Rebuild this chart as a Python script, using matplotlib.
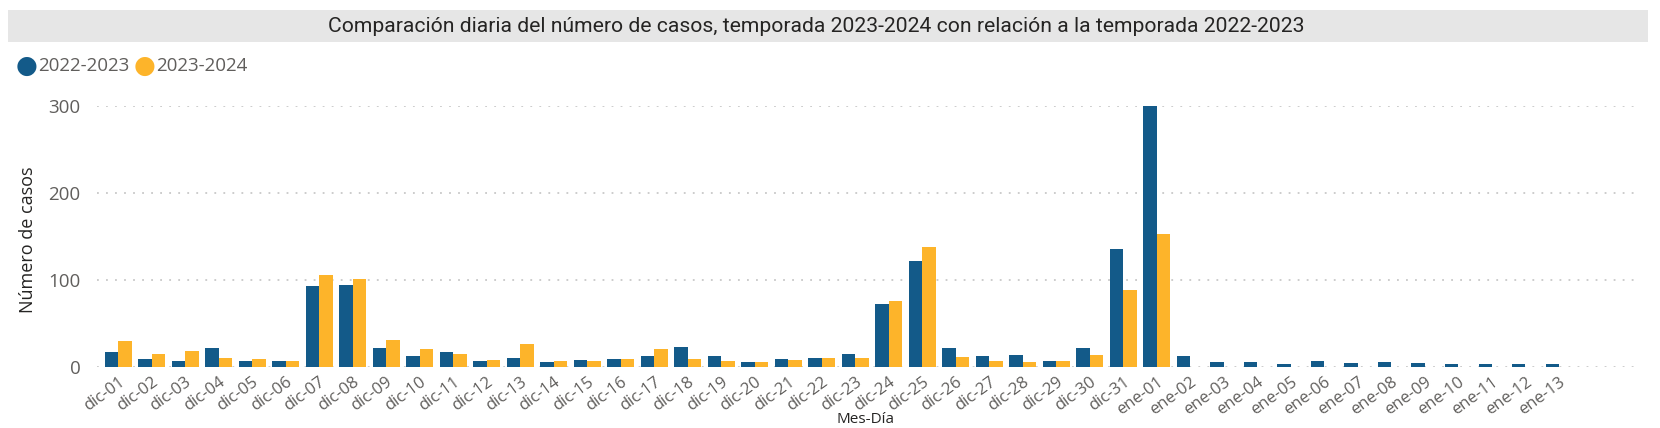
import numpy as np
import matplotlib.pyplot as plt
from matplotlib.patches import Rectangle

dias = [f"dic-{d:02d}" for d in range(1, 32)] + [f"ene-{d:02d}" for d in range(1, 14)]

temp_2022_2023 = [17, 9, 7, 22, 7, 7, 93, 94, 22, 13, 17, 7, 10,
                  6, 8, 9, 13, 23, 13, 6, 9, 10, 15, 72, 122, 22, 13, 14, 7,
                  22, 136,
                  300, 13, 6, 6, 4, 7, 5, 6, 5, 3, 3, 3, 3]
temp_2023_2024 = [30, 15, 18, 10, 9, 7, 106, 101, 31, 21, 15, 8, 27,
                  7, 7, 9, 21, 9, 7, 6, 8, 10, 10, 76, 138, 12, 7, 6, 7,
                  14, 88,
                  153] + [np.nan] * 12

series = ["2022-2023", "2023-2024"]
colores = ["#135A89", "#FDB42A"]

W, H = 1660, 428
fig = plt.figure(figsize=(W / 100, H / 100), dpi=100)
fig.patch.set_facecolor("white")

# barra de título
fig.patches.append(Rectangle((8 / W, 1 - 42 / H), 1640 / W, 32 / H,
                             transform=fig.transFigure, facecolor="#E6E6E6",
                             edgecolor="none", zorder=0))
fig.text(816 / W, 1 - 26 / H,
         "Comparación diaria del número de casos, temporada 2023-2024 con relación a la temporada 2022-2023",
         ha="center", va="center", fontsize=15.2, color="#252423", family="Roboto")

# leyenda
lx = 27
for nombre, col in zip(series, colores):
    fig.text(lx / W, 1 - 66 / H, "\u25CF", ha="center", va="center",
             fontsize=18, color=col, family="DejaVu Sans")
    fig.text((lx + 11) / W, 1 - 66 / H, nombre, ha="left", va="center",
             fontsize=13.5, color="#605E5C", family="Open Sans")
    lx += 118

left, right, top, bottom = 97, 1638, 106, 367
ax = fig.add_axes([left / W, 1 - bottom / H, (right - left) / W, (bottom - top) / H])

x = np.arange(len(dias))
w = 0.4
ax.bar(x - w / 2, temp_2022_2023, width=w, color=colores[0], zorder=2)
ax.bar(x + w / 2, temp_2023_2024, width=w, color=colores[1], zorder=2)

ax.set_xlim(-0.63, 45.36)
ax.set_ylim(0, 300)
ax.set_yticks([0, 100, 200, 300])
ax.grid(axis="y", color="#C8C8C8", linestyle=(0, (1, 4)), linewidth=1.3, zorder=0)
ax.set_axisbelow(True)
for s in ax.spines.values():
    s.set_visible(False)
ax.tick_params(axis="both", length=0, colors="#605E5C")
ax.tick_params(axis="y", labelsize=13.5, pad=12)
ax.set_yticklabels(["0", "100", "200", "300"], family="Open Sans")
ax.set_xticks(x)
ax.set_xticklabels(dias, rotation=36, ha="right", rotation_mode="anchor",
                   fontsize=12, family="Open Sans", color="#605E5C")
ax.tick_params(axis="x", pad=5)

fig.text(28 / W, 1 - 240 / H, "Número de casos", rotation=90, ha="center", va="center",
         fontsize=13, color="#252423", family="Open Sans")
fig.text(865 / W, 1 - 427 / H, "Mes-Día", ha="center", va="bottom",
         fontsize=11, color="#252423", family="Open Sans")

fig.savefig("out.png", dpi=100)
